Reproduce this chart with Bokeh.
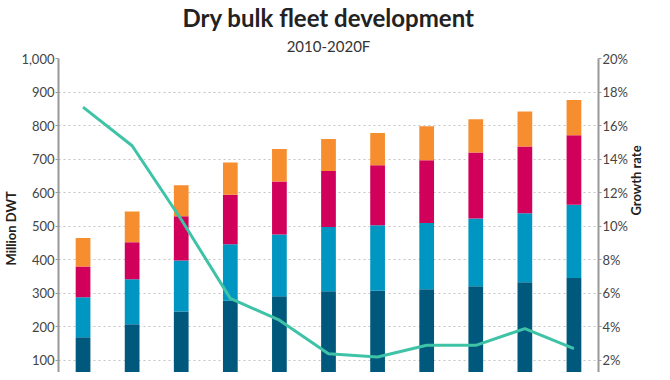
import math
from bokeh.plotting import figure
from bokeh.models import (ColumnDataSource, FactorRange, Range1d, LinearAxis,
                          NumeralTickFormatter, PrintfTickFormatter, FixedTicker,
                          Title)
from bokeh.embed import file_html
from bokeh.resources import INLINE

# ---- data ----
years = ["2010", "2011", "2012", "2013", "2014", "2015",
         "2016", "2017", "2018", "2019", "2020F"]
handysize = [169, 208, 246, 278, 291, 306, 308, 312, 321, 333, 346]
handymax = [119, 134, 152, 168, 184, 192, 195, 198, 202, 206, 218]
panamax = [92, 110, 132, 148, 158, 167, 179, 187, 197, 199, 207]
capesize = [85, 92, 92, 96, 97, 95, 96, 101, 99, 104, 105]
growth = [17.1, 14.8, 10.4, 5.7, 4.4, 2.4, 2.2, 2.9, 2.9, 3.9, 2.7]

left_ticks = [100, 200, 300, 400, 500, 600, 700, 800, 900, 1000]
right_ticks = [2, 4, 6, 8, 10, 12, 14, 16, 18, 20]

series = ["handysize", "handymax", "panamax", "capesize"]
colors = ["#00587c", "#0096c2", "#d1005a", "#f68d2e"]

source = ColumnDataSource(dict(years=years, handysize=handysize, handymax=handymax,
                               panamax=panamax, capesize=capesize))

FONT = "Lato"
y_lo, y_hi = 64, 1000

p = figure(width=654, height=372, x_range=FactorRange(factors=years, range_padding=0),
           y_range=Range1d(y_lo, y_hi), output_backend="svg", toolbar_location=None,
           min_border_left=40, min_border_right=55, min_border_bottom=0, min_border_top=0)
p.extra_y_ranges = {"growth": Range1d(y_lo / 50.0, y_hi / 50.0)}

p.vbar_stack(series, x="years", width=0.30, color=colors, line_color=None, source=source)
p.line(x=years, y=growth, y_range_name="growth", line_color="#3fc3a7", line_width=3)

p.xaxis.visible = False
p.xgrid.visible = False
p.ygrid.grid_line_color = "#c4c4c4"
p.ygrid.grid_line_dash = "2 3"
p.ygrid.grid_line_width = 1.2
p.ygrid.ticker = FixedTicker(ticks=left_ticks)
p.outline_line_color = None

ya = p.yaxis[0]
ya.ticker = FixedTicker(ticks=left_ticks)
ya.formatter = NumeralTickFormatter(format="0,0")

ra = LinearAxis(y_range_name="growth", ticker=FixedTicker(ticks=right_ticks),
                formatter=PrintfTickFormatter(format="%d%%"))
p.add_layout(ra, "right")

for ax in (ya, ra):
    ax.axis_line_color = "#999999"
    ax.axis_line_width = 2
    ax.major_tick_line_color = "#999999"
    ax.major_tick_out = 3
    ax.major_tick_in = 0
    ax.minor_tick_line_color = None
    ax.major_label_text_font = FONT
    ax.major_label_text_font_size = "13px"
    ax.major_label_text_color = "#444444"
    ax.major_label_standoff = 1

ra.axis_label = "Growth rate"
ra.axis_label_orientation = -3 * math.pi / 2
ra.axis_label_standoff = 5
ra.axis_label_text_font = FONT
ra.axis_label_text_font_size = "13px"
ra.axis_label_text_font_style = "bold"
ra.axis_label_text_color = "#222222"

p.add_layout(Title(text="2010-2020F", align="center", text_font=FONT,
                   text_font_size="15px", text_font_style="normal",
                   text_color="#333333", standoff=7), "above")
p.add_layout(Title(text="Dry bulk fleet development", align="center", text_font=FONT,
                   text_font_size="24px", text_font_style="bold",
                   text_color="#222222", standoff=0), "above")

p.add_layout(Title(text="Million DWT", align="left", offset=107, text_font=FONT,
                   text_font_size="13px", text_font_style="bold",
                   text_color="#222222", standoff=0), "left")

open("out.html", "w").write(file_html(p, INLINE))
